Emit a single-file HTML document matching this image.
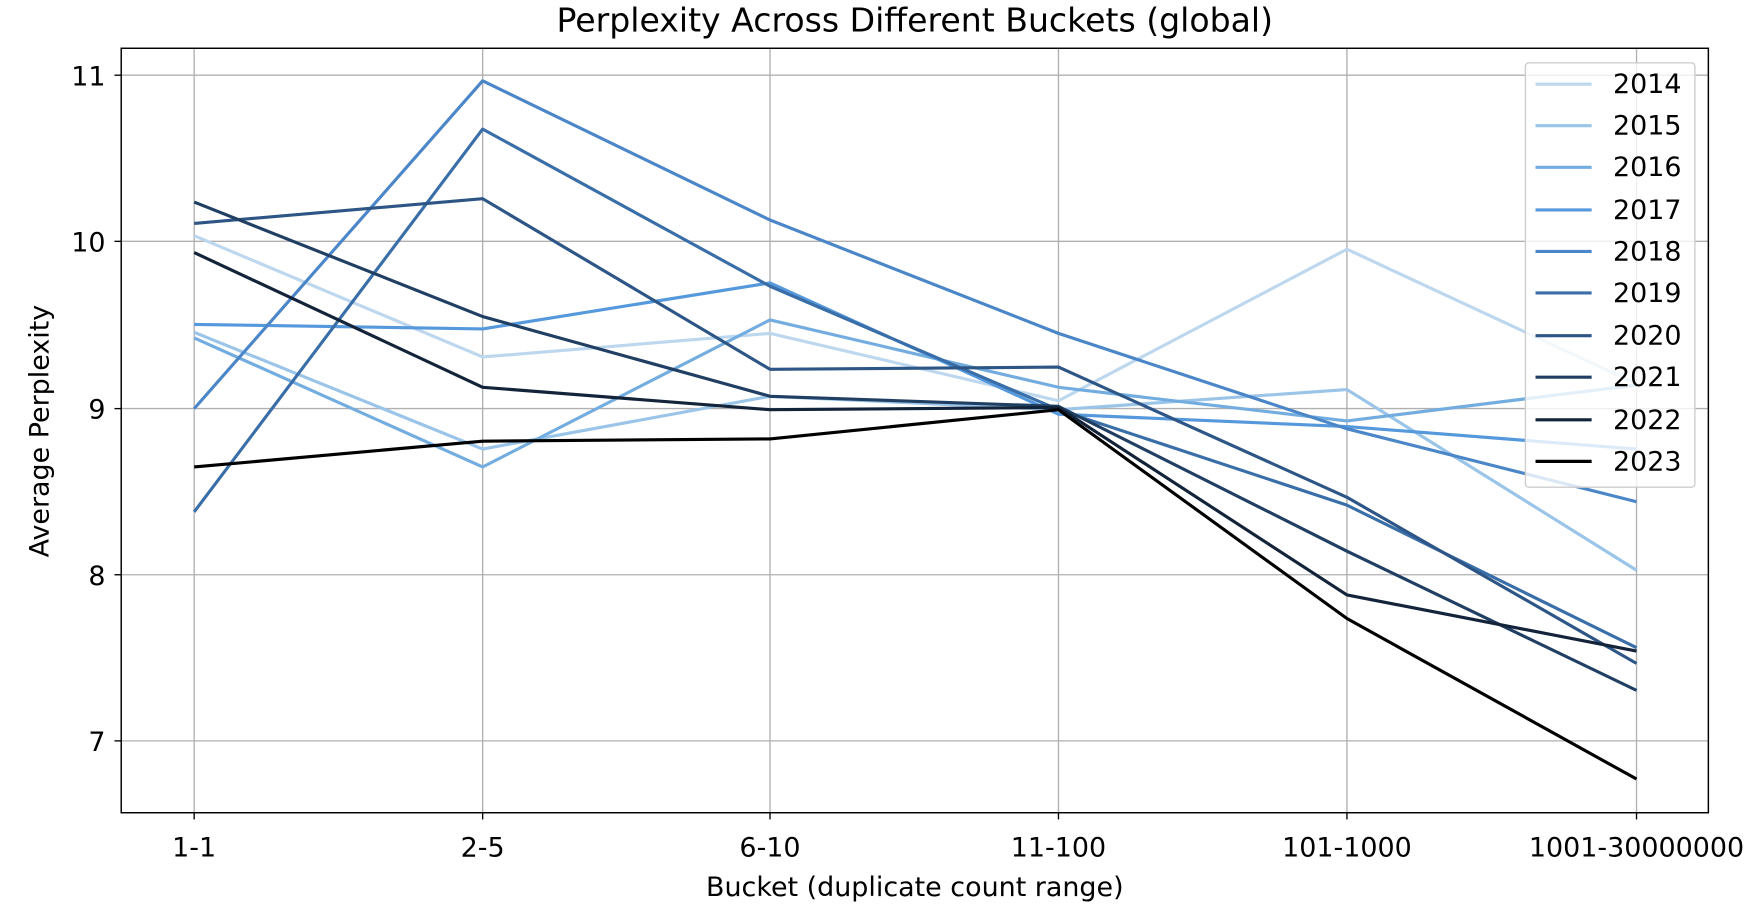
<!DOCTYPE html>
<html><head><style>html,body{margin:0;padding:0;background:#fff}svg{display:block}</style></head>
<body>
<svg width="1760" height="916" viewBox="0 0 1568 816" preserveAspectRatio="none" xmlns="http://www.w3.org/2000/svg" font-family="'DejaVu Sans', 'Liberation Sans', sans-serif">
<rect width="1568" height="816" fill="#fff"/>
<g stroke="#b0b0b0" stroke-width="1.2">
<line x1="173" y1="43" x2="173" y2="724"/><line x1="430" y1="43" x2="430" y2="724"/><line x1="686" y1="43" x2="686" y2="724"/><line x1="943" y1="43" x2="943" y2="724"/><line x1="1200" y1="43" x2="1200" y2="724"/><line x1="1458" y1="43" x2="1458" y2="724"/>
<line x1="108" y1="67" x2="1522" y2="67"/><line x1="108" y1="215" x2="1522" y2="215"/><line x1="108" y1="364" x2="1522" y2="364"/><line x1="108" y1="512" x2="1522" y2="512"/><line x1="108" y1="660" x2="1522" y2="660"/>
</g>
<g fill="none" stroke-width="2.8" stroke-linejoin="round">
<polyline stroke="#bdd7ee" points="173,210 430,318 686,297 943,357 1200,222 1458,342"/>
<polyline stroke="#9ac4e8" points="173,296 430,400 686,353 943,365 1200,347 1458,508"/>
<polyline stroke="#73ade0" points="173,301 430,416 686,285 943,345 1200,375 1458,343"/>
<polyline stroke="#5599dc" points="173,289 430,293 686,252 943,369 1200,380 1458,400"/>
<polyline stroke="#4a86c8" points="173,364 430,72 686,196 943,297 1200,382 1458,447"/>
<polyline stroke="#3a6ea8" points="173,456 430,115 686,255 943,365 1200,450 1458,577"/>
<polyline stroke="#2d5687" points="173,199 430,177 686,329 943,327 1200,443 1458,591"/>
<polyline stroke="#203f63" points="173,180 430,282 686,353 943,362 1200,491 1458,615"/>
<polyline stroke="#132339" points="173,225 430,345 686,365 943,363 1200,530 1458,580"/>
<polyline stroke="#000000" points="173,416 430,393 686,391 943,365 1200,551 1458,694"/>
</g>
<rect x="108" y="43" width="1414" height="681" fill="none" stroke="#000" stroke-width="1.3"/>
<g stroke="#000" stroke-width="1.2">
<line x1="173" y1="724" x2="173" y2="730"/><line x1="430" y1="724" x2="430" y2="730"/><line x1="686" y1="724" x2="686" y2="730"/><line x1="943" y1="724" x2="943" y2="730"/><line x1="1200" y1="724" x2="1200" y2="730"/><line x1="1458" y1="724" x2="1458" y2="730"/>
<line x1="102" y1="67" x2="108" y2="67"/><line x1="102" y1="215" x2="108" y2="215"/><line x1="102" y1="364" x2="108" y2="364"/><line x1="102" y1="512" x2="108" y2="512"/><line x1="102" y1="660" x2="108" y2="660"/>
</g>
<g font-size="24" fill="#000" text-anchor="middle">
<text x="173" y="763">1-1</text><text x="430" y="763">2-5</text><text x="686" y="763">6-10</text><text x="943" y="763">11-100</text><text x="1200" y="763">101-1000</text><text x="1458" y="763">1001-30000000</text>
<text x="815" y="798">Bucket (duplicate count range)</text>
<text x="815" y="28" font-size="29.5">Perplexity Across Different Buckets (global)</text>
</g>
<g font-size="24" fill="#000" text-anchor="end">
<text x="94" y="76">11</text><text x="94" y="224">10</text><text x="94" y="373">9</text><text x="94" y="521">8</text><text x="94" y="669">7</text>
</g>
<text transform="translate(43,384) rotate(-90)" font-size="24" text-anchor="middle">Average Perplexity</text>
<rect x="1359" y="56" width="151" height="378" rx="3" fill="#fff" fill-opacity="0.8" stroke="#ccc" stroke-width="1.2"/>
<g stroke-width="2.8">
<line x1="1368" y1="75" x2="1418" y2="75" stroke="#bdd7ee"/>
<line x1="1368" y1="112" x2="1418" y2="112" stroke="#9ac4e8"/>
<line x1="1368" y1="149" x2="1418" y2="149" stroke="#73ade0"/>
<line x1="1368" y1="187" x2="1418" y2="187" stroke="#5599dc"/>
<line x1="1368" y1="224" x2="1418" y2="224" stroke="#4a86c8"/>
<line x1="1368" y1="261" x2="1418" y2="261" stroke="#3a6ea8"/>
<line x1="1368" y1="299" x2="1418" y2="299" stroke="#2d5687"/>
<line x1="1368" y1="336" x2="1418" y2="336" stroke="#203f63"/>
<line x1="1368" y1="374" x2="1418" y2="374" stroke="#132339"/>
<line x1="1368" y1="411" x2="1418" y2="411" stroke="#000"/>
</g>
<g font-size="24" fill="#000">
<text x="1437" y="83">2014</text><text x="1437" y="120">2015</text><text x="1437" y="157">2016</text><text x="1437" y="195">2017</text><text x="1437" y="232">2018</text><text x="1437" y="269">2019</text><text x="1437" y="307">2020</text><text x="1437" y="344">2021</text><text x="1437" y="382">2022</text><text x="1437" y="419">2023</text>
</g>
</svg>
</body></html>
